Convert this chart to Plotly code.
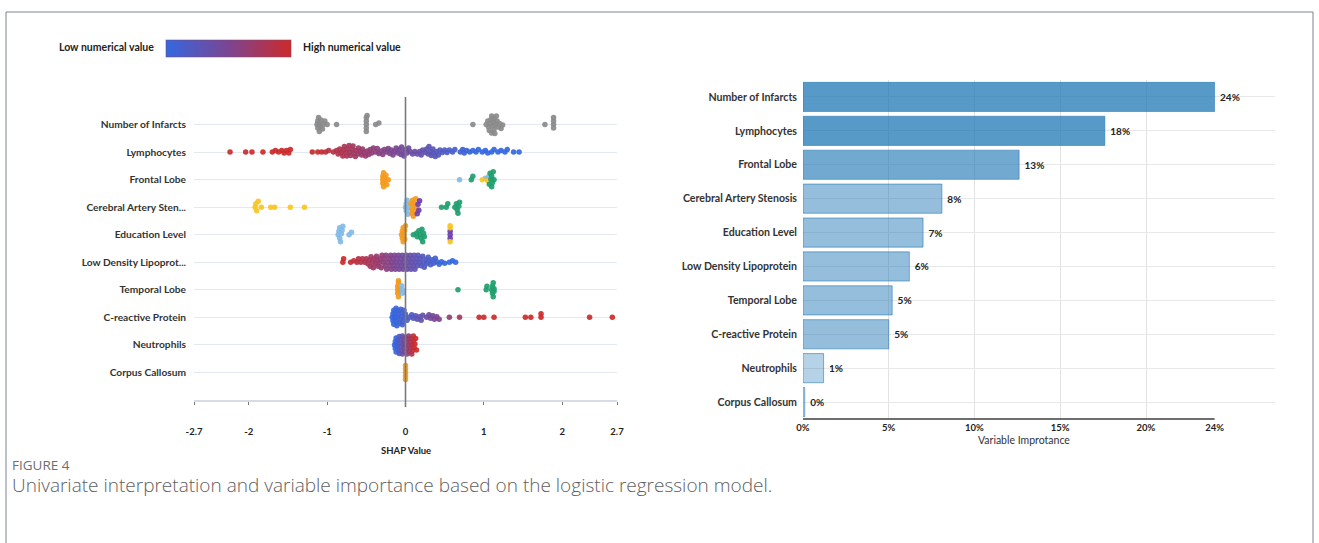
import numpy as np
import plotly.graph_objects as go

W, H = 1319, 543
FONT = "Lato"

# ---------------- data ----------------
shap_features = ["Number of Infarcts", "Lymphocytes", "Frontal Lobe", "Cerebral Artery Sten...",
                 "Education Level", "Low Density Lipoprot...", "Temporal Lobe",
                 "C-reactive Protein", "Neutrophils", "Corpus Callosum"]

importance_features = ["Number of Infarcts", "Lymphocytes", "Frontal Lobe", "Cerebral Artery Stenosis",
                       "Education Level", "Low Density Lipoprotein", "Temporal Lobe",
                       "C-reactive Protein", "Neutrophils", "Corpus Callosum"]
importance_pct = [24.0, 17.6, 12.6, 8.1, 7.0, 6.2, 5.2, 5.0, 1.2, 0.1]

shap_ticks = [-2.7, -2, -1, 0, 1, 2, 2.7]
imp_ticks = [0, 5, 10, 15, 20, 24]

# categorical features: SHAP values per category level
infarcts_shap = {
    "gray": [-1.13, -1.12, -1.12, -1.11, -1.10, -1.10, -1.09, -1.08, -1.06, -1.05, -1.03, -1.00, -0.88,
             -0.50, -0.50, -0.50, -0.50, -0.50, -0.49, -0.38, -0.34,
             0.86, 1.03, 1.05, 1.06, 1.07, 1.08, 1.09, 1.10, 1.10, 1.11, 1.12, 1.13, 1.13, 1.14,
             1.15, 1.16, 1.17, 1.18, 1.20, 1.22, 1.24,
             1.78, 1.89, 1.89, 1.89, 1.89],
}
frontal_shap = {
    "orange": [-0.29, -0.29, -0.29, -0.28, -0.28, -0.27, -0.26, -0.25, -0.24, -0.22],
    "lightblue": [0.69, 1.02, 1.06],
    "yellow": [0.98, 1.05],
    "green": [0.84, 0.86, 1.07, 1.08, 1.09, 1.10, 1.10, 1.11, 1.12, 1.13],
}
stenosis_shap = {
    "yellow": [-1.92, -1.91, -1.90, -1.88, -1.84, -1.72, -1.67, -1.47, -1.29],
    "lightblue": [0.00, 0.01, 0.01, 0.02, 0.03, 0.05],
    "orange": [0.07, 0.08, 0.08, 0.09, 0.10, 0.10, 0.11, 0.12, 0.13, 0.14],
    "purple": [0.15, 0.16, 0.17, 0.18],
    "green": [0.46, 0.52, 0.54, 0.63, 0.65, 0.66, 0.67, 0.68, 0.69],
}
education_shap = {
    "lightblue": [-0.86, -0.85, -0.84, -0.84, -0.83, -0.82, -0.81, -0.80, -0.72, -0.69],
    "orange": [-0.05, -0.04, -0.04, -0.03, -0.03, -0.02, -0.02, -0.01, -0.01, 0.00],
    "green": [0.10, 0.14, 0.15, 0.17, 0.19, 0.20, 0.21, 0.22, 0.23, 0.24],
    "purple": [0.57, 0.57, 0.57],
    "yellow": [0.57, 0.57, 0.57],
}
temporal_shap = {
    "orange": [-0.10, -0.10, -0.10, -0.09, -0.09, -0.09, -0.08, -0.08],
    "lightblue": [-0.05, -0.04, -0.04],
    "green": [0.67, 1.03, 1.04, 1.10, 1.11, 1.11, 1.12, 1.12, 1.13, 1.13],
}
corpus_shap = {
    "orange": [0.0, 0.0, 0.0, 0.0, 0.0],
}

# numerical features: SHAP values (colour follows the feature value)
lymph_shap = [-2.24, -2.04, -1.96, -1.82, -1.70, -1.66, -1.62, -1.58, -1.55, -1.52, -1.49, -1.47,
              -1.19, -1.12, -1.07, -1.02, -0.98,
              -0.92, -0.88, -0.86, -0.84, -0.82, -0.80, -0.79, -0.78, -0.76, -0.75, -0.74, -0.72,
              -0.71, -0.70, -0.68, -0.67, -0.66, -0.64, -0.63, -0.61, -0.60, -0.58, -0.56, -0.55,
              -0.53, -0.51, -0.49, -0.47, -0.45, -0.43, -0.41, -0.38, -0.36, -0.34, -0.31, -0.29,
              -0.27, -0.24, -0.22, -0.20, -0.18, -0.16, -0.14, -0.12, -0.10, -0.08, -0.06, -0.05,
              -0.03, -0.02, 0.00, 0.02, 0.04, 0.06, 0.09, 0.12, 0.15, 0.18, 0.20, 0.22, 0.25, 0.27,
              0.29, 0.30, 0.32, 0.33, 0.35, 0.36, 0.38, 0.40, 0.42, 0.44, 0.47, 0.50, 0.53, 0.56,
              0.60, 0.63, 0.70, 0.73, 0.75, 0.78, 0.82, 0.86, 0.90, 0.93, 0.98, 1.02, 1.05, 1.10,
              1.13, 1.18, 1.22, 1.27, 1.30, 1.38, 1.45]
ldl_shap = [-0.80, -0.79, -0.70, -0.66, -0.62, -0.60, -0.57, -0.55, -0.52, -0.50,
            -0.48, -0.46, -0.45, -0.44, -0.42, -0.41, -0.40, -0.38, -0.37, -0.36, -0.35, -0.33,
            -0.32, -0.31, -0.30, -0.28, -0.27, -0.26, -0.25, -0.24, -0.22, -0.21, -0.20, -0.19,
            -0.18, -0.17, -0.16, -0.15, -0.14, -0.13, -0.12, -0.11, -0.10, -0.09, -0.08, -0.07,
            -0.06, -0.05, -0.04, -0.03, -0.02, -0.01, 0.00, 0.01, 0.02, 0.03, 0.04, 0.05, 0.06,
            0.07, 0.08, 0.09, 0.10, 0.11, 0.12, 0.13, 0.14, 0.15, 0.16, 0.18, 0.19, 0.20, 0.22,
            0.23, 0.24, 0.26, 0.27, 0.29, 0.30, 0.32, 0.34, 0.36, 0.38, 0.40, 0.43, 0.46, 0.50,
            0.56, 0.60, 0.64]
crp_shap = [-0.17, -0.16, -0.16, -0.15, -0.15, -0.14, -0.14, -0.13, -0.12, -0.12, -0.11, -0.10,
            -0.10, -0.09, -0.08, -0.07, -0.06, -0.05, -0.05, -0.04, -0.03, -0.02, -0.01, 0.00,
            0.02, 0.05, 0.08, 0.10, 0.13, 0.15, 0.18, 0.20, 0.22, 0.27, 0.30, 0.32, 0.35, 0.37,
            0.40, 0.43, 0.56, 0.69, 0.94, 1.00, 1.13, 1.53, 1.60, 1.73, 1.73, 2.35, 2.64]
neut_shap = [-0.14, -0.13, -0.13, -0.12, -0.12, -0.11, -0.10, -0.10, -0.09, -0.08, -0.08, -0.07,
             -0.06, -0.06, -0.05, -0.04, -0.04, -0.03, -0.02, -0.02, -0.01, 0.00, 0.00, 0.01,
             0.02, 0.02, 0.03, 0.04, 0.04, 0.05, 0.06, 0.06, 0.07, 0.08, 0.08, 0.09, 0.10, 0.10,
             0.11, 0.12, 0.13, 0.14]

# ---------------- styling ----------------
LEVEL_COLORS = {
    "gray": "#8a8a8a", "orange": "#f39a1e", "lightblue": "#82bbe6",
    "green": "#1f9e6e", "yellow": "#f7c623", "purple": "#6b3fb0",
}
GRADIENT = [[0.0, "#3468e0"], [0.5, "#7b4592"], [1.0, "#cc2a2a"]]

# colour window (low, high, sign of the model coefficient) for numerical features
NUM_STYLE = {
    "Lymphocytes": (-1.2, 0.9, -1),
    "Low Density Lipoprot...": (-0.75, 0.5, -1),
    "C-reactive Protein": (-0.15, 0.95, 1),
    "Neutrophils": (-0.12, 0.12, 1),
}

rows = {
    "Number of Infarcts": infarcts_shap,
    "Lymphocytes": lymph_shap,
    "Frontal Lobe": frontal_shap,
    "Cerebral Artery Sten...": stenosis_shap,
    "Education Level": education_shap,
    "Low Density Lipoprot...": ldl_shap,
    "Temporal Lobe": temporal_shap,
    "C-reactive Protein": crp_shap,
    "Neutrophils": neut_shap,
    "Corpus Callosum": corpus_shap,
}

# left panel geometry (paper pixels)
LX0, LX1, LY0, LY1 = 194, 617, 97, 400
X_RANGE = (-2.7, 2.7)
Y_RANGE = (-1, 10)
PX_X = (LX1 - LX0) / (X_RANGE[1] - X_RANGE[0])
PX_Y = (LY1 - LY0) / (Y_RANGE[1] - Y_RANGE[0])


def swarm_offsets(xs, dmin=3.4, max_off=9.0, step=0.5):
    """Beeswarm layout: vertical offsets (in y units) so dots do not overlap."""
    xs = np.asarray(xs, dtype=float)
    px = xs * PX_X
    order = np.argsort(px, kind="stable")
    offs = np.zeros(len(xs))
    placed_x, placed_y = [], []
    cands = [0.0]
    k = 1
    while k * step <= max_off:
        cands += [k * step, -k * step]
        k += 1
    for i in order:
        nx = np.array(placed_x)
        ny = np.array(placed_y)
        if len(nx):
            near = np.abs(nx - px[i]) < dmin
            nx, ny = nx[near], ny[near]
        best, best_d = 0.0, -1.0
        chosen = None
        for c in cands:
            if len(nx) == 0:
                chosen = c
                break
            d = np.sqrt((nx - px[i]) ** 2 + (ny - c) ** 2).min()
            if d >= dmin:
                chosen = c
                break
            if d > best_d:
                best, best_d = c, d
        if chosen is None:
            chosen = best
        offs[i] = chosen
        placed_x.append(px[i])
        placed_y.append(chosen)
    return offs / PX_Y


fig = go.Figure()

n = len(shap_features)
legend_done = False
for idx, feat in enumerate(shap_features):
    ypos = n - 1 - idx
    data = rows[feat]
    if isinstance(data, dict):
        xs, cols = [], []
        for level, vals in data.items():
            xs += vals
            cols += [LEVEL_COLORS[level]] * len(vals)
        offs = swarm_offsets(xs)
        fig.add_trace(go.Scatter(
            x=xs, y=ypos + offs, mode="markers", xaxis="x", yaxis="y",
            marker=dict(size=5.5, color=cols, opacity=0.92, line=dict(width=0)),
            showlegend=False, hoverinfo="x"))
    else:
        lo, hi, sign = NUM_STYLE[feat]
        s = np.asarray(data, dtype=float)
        t = np.clip((s - lo) / (hi - lo), 0, 1)
        if sign < 0:
            t = 1 - t
        offs = swarm_offsets(data)
        marker = dict(size=5.5, color=t, colorscale=GRADIENT, cmin=0, cmax=1,
                      opacity=0.92, line=dict(width=0))
        if not legend_done:
            marker.update(showscale=True, colorbar=dict(
                orientation="h", lenmode="pixels", len=125, thickness=17,
                thicknessmode="pixels", x=228.5 / W, xanchor="center",
                y=1 - 48.5 / H, yanchor="middle", xpad=0, ypad=0,
                showticklabels=False, ticks="", outlinewidth=1,
                outlinecolor="rgba(130,70,110,0.55)"))
            legend_done = True
        fig.add_trace(go.Scatter(
            x=data, y=ypos + offs, mode="markers", xaxis="x", yaxis="y",
            marker=marker, showlegend=False, hoverinfo="x"))

# right panel: variable importance bars
ypos_bar = [n - 1 - i for i in range(n)]


def bar_alpha(v):
    if v >= 15:
        return 0.75
    if v >= 10:
        return 0.63
    if v >= 3:
        return 0.48
    return 0.33


fig.add_trace(go.Bar(
    x=importance_pct, y=ypos_bar, orientation="h", xaxis="x2", yaxis="y2",
    width=0.86,
    marker=dict(color=[f"rgba(31,119,180,{bar_alpha(v)})" for v in importance_pct],
                line=dict(color="rgba(31,119,180,0.55)", width=1)),
    text=[f" {v:.0f}%" for v in importance_pct], textposition="outside",
    textfont=dict(family=FONT, size=10, color="#222222", weight="bold"),
    cliponaxis=False, showlegend=False, hoverinfo="x"))

RX0, RX1, RY0, RY1 = 803, 1275, 80, 419
PX_PCT = 17.15

tick_font = dict(family=FONT, size=9.5, color="#222222", weight="bold")
cat_font_l = dict(family=FONT, size=10.2, color="#333333", weight="bold")
cat_font_r = dict(family=FONT, size=10.6, color="#333333", weight="bold")

fig.update_layout(
    width=W, height=H, margin=dict(l=0, r=0, t=0, b=0, autoexpand=False),
    paper_bgcolor="white", plot_bgcolor="white",
    xaxis=dict(domain=[LX0 / W, LX1 / W], range=list(X_RANGE), anchor="y",
               tickvals=shap_ticks, ticktext=[f"{v:g}" for v in shap_ticks],
               showgrid=False, zeroline=False, showline=True, linecolor="#d6dce7",
               linewidth=1.5, ticks="outside", ticklen=3, tickcolor="#777777",
               tickfont=tick_font, ticklabelstandoff=19, fixedrange=True),
    yaxis=dict(domain=[1 - LY1 / H, 1 - LY0 / H], range=list(Y_RANGE), anchor="x",
               tickvals=list(range(n + 1)),
               ticktext=[shap_features[n - 1 - i] for i in range(n)] + [""],
               showgrid=True, gridcolor="#e3e8f1", gridwidth=1.2, zeroline=False,
               showline=False, ticks="", tickfont=cat_font_l, ticklabelstandoff=7,
               fixedrange=True),
    xaxis2=dict(domain=[RX0 / W, RX1 / W], range=[0, (RX1 - RX0) / PX_PCT], anchor="y2",
                tickvals=imp_ticks, ticktext=[f"{v}%" for v in imp_ticks],
                showgrid=False, zeroline=False, showline=False, ticks="",
                minor=dict(tickvals=[5, 10, 15, 20], showgrid=True, gridcolor="#e2e2e2",
                           gridwidth=1.2, ticks=""),
                tickfont=tick_font, ticklabelstandoff=1, fixedrange=True),
    yaxis2=dict(domain=[1 - RY1 / H, 1 - RY0 / H], range=[-0.5, n - 0.5], anchor="x2",
                tickvals=ypos_bar, ticktext=importance_features,
                showgrid=True, gridcolor="#e8e8e8", gridwidth=1, zeroline=False,
                showline=False, ticks="", tickfont=cat_font_r, ticklabelstandoff=5,
                fixedrange=True),
)

shapes = [
    # outer frame
    dict(type="rect", xref="paper", yref="paper", x0=6 / W, x1=1313 / W,
         y0=-0.2, y1=1 - 12 / H, line=dict(color="#7d8290", width=1), layer="below"),
    # zero reference line of the SHAP panel
    dict(type="line", xref="x", yref="paper", x0=0, x1=0,
         y0=1 - 407 / H, y1=1 - LY0 / H, line=dict(color="#7a7a7a", width=1.6)),
    # importance axis baseline (0 to 24 %)
    dict(type="line", xref="x2", yref="y2 domain", x0=0, x1=24, y0=0, y1=0,
         line=dict(color="#6e6e6e", width=2)),
]
fig.update_layout(shapes=shapes)

annotations = [
    dict(text="Low numerical value", x=156 / W, y=1 - 47.5 / H, xref="paper", yref="paper",
         xanchor="right", yanchor="middle", showarrow=False,
         font=dict(family=FONT, size=10.5, color="#222222", weight="bold")),
    dict(text="High numerical value", x=301 / W, y=1 - 47.5 / H, xref="paper", yref="paper",
         xanchor="left", yanchor="middle", showarrow=False,
         font=dict(family=FONT, size=10.5, color="#222222", weight="bold")),
    dict(text="SHAP Value", x=406 / W, y=1 - 450 / H, xref="paper", yref="paper",
         xanchor="center", yanchor="middle", showarrow=False,
         font=dict(family=FONT, size=9.5, color="#222222", weight="bold")),
    dict(text="Variable Improtance", x=1024 / W, y=1 - 440 / H, xref="paper", yref="paper",
         xanchor="center", yanchor="middle", showarrow=False,
         font=dict(family=FONT, size=10.5, color="#333333")),
    dict(text="FIGURE 4", x=10 / W, y=1 - 465 / H, xref="paper", yref="paper",
         xanchor="left", yanchor="middle", showarrow=False,
         font=dict(family="Open Sans", size=13.5, color="#6e6e6e")),
    dict(text="Univariate interpretation and variable importance based on the logistic regression model.",
         x=10 / W, y=1 - 485 / H, xref="paper", yref="paper",
         xanchor="left", yanchor="middle", showarrow=False,
         font=dict(family="Open Sans", size=19, color="#606060", weight=300)),
]
fig.update_layout(annotations=annotations)

fig.write_html("out.html")
